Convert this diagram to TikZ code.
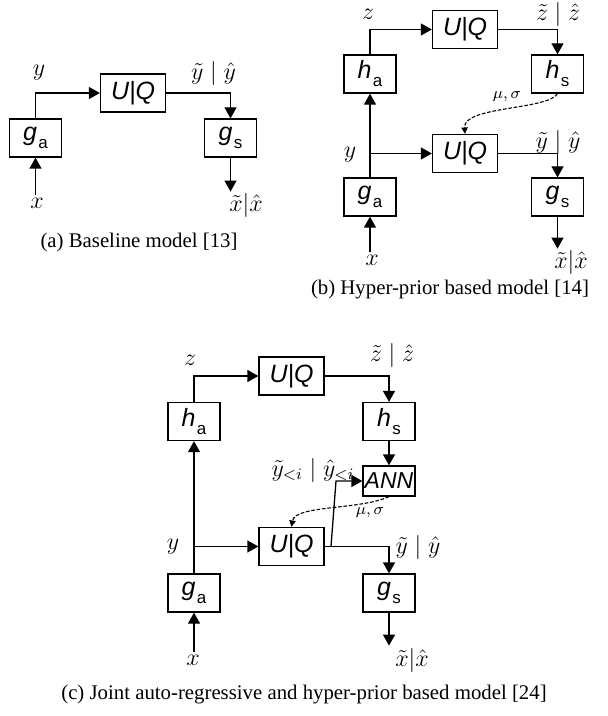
\documentclass[tikz,border=0pt]{standalone}
\usepackage{fontspec}
\setmainfont{Liberation Serif}
\newfontfamily\boxfont{Liberation Sans}
\usepackage{tikz}
\usetikzlibrary{arrows.meta,calc}
\newcommand{\lowsub}[1]{\hspace{0.6pt}\raisebox{-4pt}{\upshape\fontsize{8.5}{9}\selectfont #1}}

\begin{document}
\begin{tikzpicture}[
        x=0.5pt, y=-0.5pt,
        blk/.style={draw, line width=0.65pt, inner sep=0pt, minimum width=26pt, minimum height=19pt,
          font=\boxfont\itshape\fontsize{12.5}{14}\selectfont},
        wide/.style={minimum width=32.5pt},
        lbl/.style={inner sep=1pt, font=\fontsize{11.5}{13}\selectfont},
        small/.style={inner sep=1pt, font=\fontsize{8.5}{10}\selectfont},
        arr/.style={line width=0.65pt, -{Triangle[length=5.5pt,width=6pt]}},
        dsh/.style={line width=0.55pt, dash pattern=on 1.8pt off 0.9pt, -{Triangle[length=3.2pt,width=3.2pt]}},
        capt/.style={inner sep=0pt, font=\fontsize{10.4}{12}\selectfont}
      ]
        \useasboundingbox (0,0) rectangle (608,716);
        % (a) baseline
        \node[blk] (ga1) at (35.5,138) {g\lowsub{a}};
        \node[blk,wide] (uq1) at (133,93) {U|Q};
        \node[blk] (gs1) at (230.5,138) {g\lowsub{s}};
        \node[lbl] (ya) at (39,73) {$y$};
        \node[lbl] (yta) at (213.5,74) {$\tilde{y}\mid\hat{y}$};
        \node[lbl] (xa) at (37,203) {$x$};
        \node[lbl] (xoa) at (246,206) {$\tilde{x}|\hat{x}$};
        \draw[arr] (ga1.north) |- (uq1.west);
        \draw[arr] (uq1.east) -| (gs1.north);
        \draw[arr] (xa.north -| ga1.south) -- (ga1.south);
        \draw[arr] (gs1.south) -- (gs1.south |- xoa.north);
        \node[capt] (capa) at (139,242) {(a) Baseline model [13]};
        % (b) hyper-prior
        \node[blk] (ha2) at (370,74) {h\lowsub{a}};
        \node[blk,wide] (uqz2) at (465,29.5) {U|Q};
        \node[blk] (hs2) at (557.5,74) {h\lowsub{s}};
        \node[blk,wide] (uqy2) at (465,153.5) {U|Q};
        \node[blk] (ga2) at (370,197) {g\lowsub{a}};
        \node[blk] (gs2) at (557.5,197) {g\lowsub{s}};
        \node[lbl] (zb) at (368,14) {$z$};
        \node[lbl] (ztb) at (558,15) {$\tilde{z}\mid\hat{z}$};
        \node[lbl] (yb) at (350,155) {$y$};
        \node[lbl] (ytb) at (558,143) {$\tilde{y}\mid\hat{y}$};
        \node[small] (msb) at (507,97) {$\mu,\sigma$};
        \node[lbl] (xb) at (372,260) {$x$};
        \node[lbl] (xob) at (571,263) {$\tilde{x}|\hat{x}$};
        \draw[arr] (ha2.north) |- (uqz2.west);
        \draw[arr] (uqz2.east) -| (hs2.north);
        \draw[arr] (ga2.north) -- (ha2.south);
        \draw[arr] (ga2.north |- uqy2.west) -- (uqy2.west);
        \draw[arr] (uqy2.east) -| (gs2.north);
        \draw[arr] (xb.north -| ga2.south) -- (ga2.south);
        \draw[arr] (gs2.south) -- (gs2.south |- xob.north);
        \draw[dsh] (hs2.south) .. controls (548,110) and (463,106) .. (uqy2.north);
        \node[capt] (capb) at (450,290) {(b) Hyper-prior based model [14]};
        % (c) joint auto-regressive
        \node[blk,wide] (uqz3) at (291.5,376) {U|Q};
        \node[blk] (ha3) at (194,421.5) {h\lowsub{a}};
        \node[blk] (hs3) at (389,421.5) {h\lowsub{s}};
        \node[blk,minimum height=15pt,font=\boxfont\itshape\fontsize{11.5}{13}\selectfont] (ann3) at (389,481) {ANN};
        \node[blk,wide] (uqy3) at (291.5,546.5) {U|Q};
        \node[blk] (ga3) at (194,593) {g\lowsub{a}};
        \node[blk] (gs3) at (389,593) {g\lowsub{s}};
        \node[lbl] (zc) at (190,360) {$z$};
        \node[lbl] (ztc) at (392,355) {$\tilde{z}\mid\hat{z}$};
        \node[lbl] (yic) at (313,470) {$\tilde{y}_{<i}\mid\hat{y}_{<i}$};
        \node[lbl] (yc) at (173,547) {$y$};
        \node[lbl] (ytc) at (418,547) {$\tilde{y}\mid\hat{y}$};
        \node[small] (msc) at (370,513) {$\mu,\sigma$};
        \node[lbl] (xc) at (193,660) {$x$};
        \node[lbl] (xoc) at (412,660) {$\tilde{x}|\hat{x}$};
        \coordinate (tap3) at (331,546.5);
        \coordinate (bend3) at (336,481);
        \draw[arr] (ha3.north) |- (uqz3.west);
        \draw[arr] (uqz3.east) -| (hs3.north);
        \draw[arr] (hs3.south) -- (ann3.north);
        \draw[arr] (ga3.north) -- (ha3.south);
        \draw[arr] (ga3.north |- uqy3.west) -- (uqy3.west);
        \draw[arr] (uqy3.east) -| (gs3.north);
        \draw[arr] (tap3) -- (bend3) -- (ann3.west);
        \draw[arr] (xc.north -| ga3.south) -- (ga3.south);
        \draw[arr] (gs3.south) -- (gs3.south |- xoc.north);
        \draw[dsh] (ann3.south) .. controls (360,510) and (295,505) .. (uqy3.north);
        \node[capt] (capc) at (304,695) {(c) Joint auto-regressive and hyper-prior based model [24]};
      \end{tikzpicture}
\end{document}
